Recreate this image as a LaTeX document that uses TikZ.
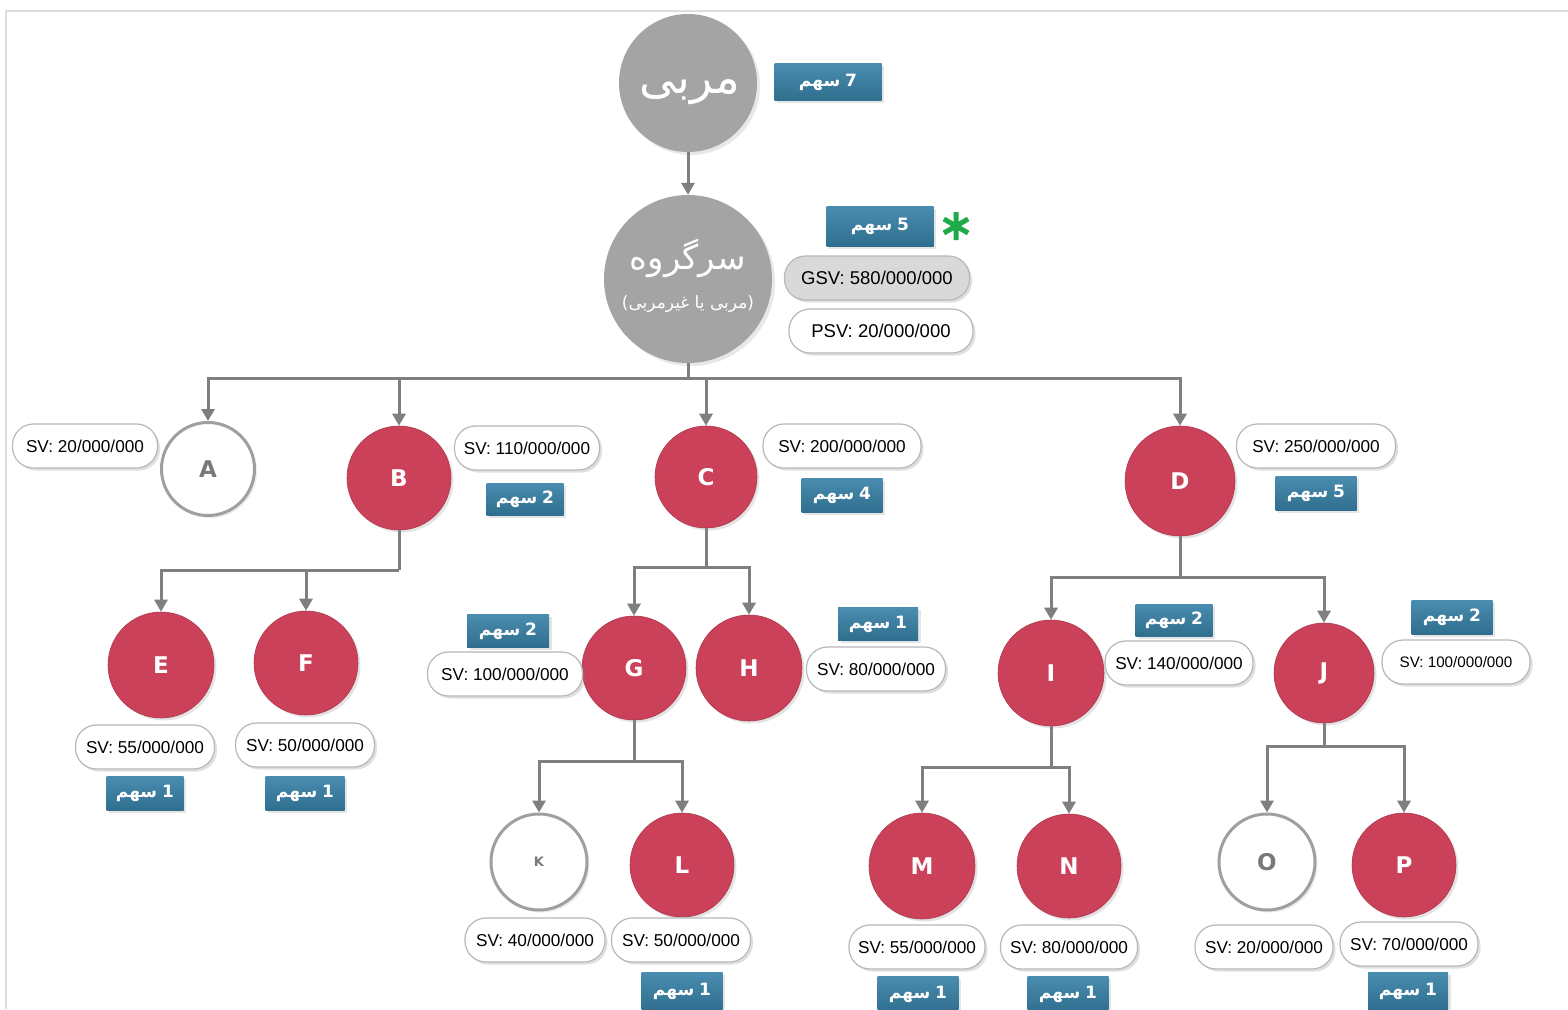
\documentclass[tikz,border=0pt]{standalone}
\usepackage{fontspec}
\setmainfont{Liberation Sans}
\newfontfamily\letterfont{DejaVu Sans}
\newfontfamily\arabicfont[Script=Arabic]{DejaVu Sans}
\TeXXeTstate=1
\usetikzlibrary{arrows.meta,shadows}

\definecolor{nodered}{HTML}{CB4159}
\definecolor{nodegray}{HTML}{A4A4A4}
\definecolor{linegray}{HTML}{7F7F7F}
\definecolor{boxtop}{HTML}{4A8DB0}
\definecolor{boxbot}{HTML}{2F6E8E}
\definecolor{pillborder}{HTML}{B8B8B8}
\definecolor{gsvfill}{HTML}{D9D9D9}
\definecolor{stargreen}{HTML}{1FAA4A}
\definecolor{framegray}{HTML}{DDDDDD}

% share label: Persian word on the left, number on the right
\newcommand\sahmlabel[1]{{\arabicfont\bfseries\beginR سهم\endR}\hspace{5pt}{\letterfont\bfseries #1}}

\tikzset{
  x=1pt, y=-1pt,
  lettertext/.style={font=\letterfont\bfseries\fontsize{23}{23}\selectfont},
  redc/.style={circle, inner sep=0pt, fill=nodered, draw=nodered!85!black,
    line width=0.6pt, text=white, lettertext,
    drop shadow={shadow xshift=2.5pt, shadow yshift=-2.5pt, opacity=0.22}},
  whitec/.style={circle, inner sep=0pt, fill=white, draw=gray!75,
    line width=3pt, text=gray!95!black, lettertext,
    drop shadow={shadow xshift=2.5pt, shadow yshift=-2.5pt, opacity=0.15}},
  grayc/.style={circle, inner sep=0pt, fill=nodegray, draw=none, text=white,
    drop shadow={shadow xshift=3pt, shadow yshift=-3pt, opacity=0.18}},
  pill/.style={rectangle, rounded corners=21pt, minimum height=44pt,
    minimum width=#1, inner sep=0pt, fill=white, draw=pillborder,
    line width=1.2pt, font=\fontsize{17.2}{18}\selectfont,
    drop shadow={shadow xshift=2.5pt, shadow yshift=-2.5pt, opacity=0.25}},
  sharebox/.style={rectangle, minimum width=#1, minimum height=34pt,
    inner sep=0pt, top color=boxtop, bottom color=boxbot, draw=none,
    text=white, font=\fontsize{17}{18}\selectfont,
    drop shadow={shadow xshift=2.5pt, shadow yshift=-2.5pt, opacity=0.2}},
  conn/.style={draw=linegray, line width=3pt},
  arr/.style={conn, -{Triangle[length=12pt,width=13pt]}},
}

\begin{document}
\begin{tikzpicture}
\useasboundingbox (0,0) rectangle (1568,1009);
\fill[white] (0,0) rectangle (1568,1009);
\draw[framegray, line width=2pt] (6,1009) -- (6,11) -- (1568,11);

% ---- top: coach and group leader
\node[grayc, minimum size=138pt] (morabbi) at (688,83) {};
\node[text=white, font=\arabicfont\fontsize{46}{46}\selectfont] (mtitle) at (690,92) {\beginR مربی\endR};
\node[sharebox=107pt, minimum height=37pt] (s7) at (828,82) {\sahmlabel{7}};

\node[grayc, minimum size=168pt] (sargrooh) at (688,279) {};
\node[text=white, font=\arabicfont\fontsize{34}{34}\selectfont] (sgtitle) at (688,258) {\beginR سرگروه\endR};
\node[text=white, font=\arabicfont\fontsize{17}{17}\selectfont] (sgsub) at (688,304)
  {{\letterfont(}\beginR مربی یا غیرمربی\endR{\letterfont)}};

\node[sharebox=107pt, minimum height=40pt] (s5top) at (880,226) {\sahmlabel{5}};
\draw[stargreen, line width=5pt] (956,212) -- (956,240)
  (943.9,219) -- (968.1,233) (943.9,233) -- (968.1,219);
\node[pill=185pt, fill=gsvfill, font=\fontsize{18.5}{19}\selectfont] (gsv) at (877,278) {GSV: 580/000/000};
\node[pill=184pt, font=\fontsize{18.5}{19}\selectfont] (psv) at (881,331) {PSV: 20/000/000};

\draw[arr] (morabbi) -- (sargrooh);

% ---- first level
\node[whitec, minimum size=93pt] (A) at (208,469) {A};
\node[redc, minimum size=104pt] (B) at (399,478) {B};
\node[redc, minimum size=102pt] (C) at (706,477) {C};
\node[redc, minimum size=110pt] (D) at (1180,481) {D};

\node[pill=145pt] (svA) at (85,446) {SV: 20/000/000};
\node[pill=145pt] (svB) at (527,448) {SV: 110/000/000};
\node[sharebox=77pt, minimum height=32pt] (shB) at (525,499) {\sahmlabel{2}};
\node[pill=158pt] (svC) at (842,446) {SV: 200/000/000};
\node[sharebox=81pt] (shC) at (842,495) {\sahmlabel{4}};
\node[pill=159pt] (svD) at (1316,446) {SV: 250/000/000};
\node[sharebox=81pt] (shD) at (1316,493) {\sahmlabel{5}};

\coordinate (busTop) at (688,378);
\draw[conn] (sargrooh) -- (busTop);
\draw[arr] (busTop) -| (A);
\draw[arr] (busTop) -| (B);
\draw[arr] (busTop) -| (C);
\draw[arr] (busTop) -| (D);

% ---- children of B
\node[redc, minimum size=106pt] (E) at (161,665) {E};
\node[redc, minimum size=104pt] (F) at (306,663) {F};
\node[pill=139pt] (svE) at (145,747) {SV: 55/000/000};
\node[sharebox=77pt] (shE) at (145,793) {\sahmlabel{1}};
\node[pill=139pt] (svF) at (305,745) {SV: 50/000/000};
\node[sharebox=79pt] (shF) at (305,793) {\sahmlabel{1}};

\coordinate (busB) at (399,570);
\draw[conn] (B) -- (busB);
\draw[arr] (busB) -| (E);
\draw[arr] (busB) -| (F);

% ---- children of C
\node[redc, minimum size=104pt] (G) at (634,668) {G};
\node[redc, minimum size=106pt] (H) at (749,668) {H};
\node[sharebox=82pt, minimum height=33pt] (shG) at (508,631) {\sahmlabel{2}};
\node[pill=155pt] (svG) at (505,674) {SV: 100/000/000};
\node[sharebox=80pt, minimum height=33pt] (shH) at (878,624) {\sahmlabel{1}};
\node[pill=139pt] (svH) at (876,669) {SV: 80/000/000};

\coordinate (busC) at (706,567);
\draw[conn] (C) -- (busC);
\draw[arr] (busC) -| (G);
\draw[arr] (busC) -| (H);

% ---- children of G
\node[whitec, minimum size=96pt, font=\letterfont\bfseries\fontsize{13}{13}\selectfont] (K) at (539,862) {K};
\node[redc, minimum size=104pt] (L) at (682,865) {L};
\node[pill=140pt] (svK) at (535,940) {SV: 40/000/000};
\node[pill=139pt] (svL) at (681,940) {SV: 50/000/000};
\node[sharebox=81pt, minimum height=38pt] (shL) at (682,991) {\sahmlabel{1}};

\coordinate (busG) at (634,761);
\draw[conn] (G) -- (busG);
\draw[arr] (busG) -| (K);
\draw[arr] (busG) -| (L);

% ---- children of D
\node[redc, minimum size=106pt] (I) at (1051,673) {I};
\node[redc, minimum size=100pt] (J) at (1324,673) {J};
\node[sharebox=77pt, minimum height=32pt] (shI) at (1174,620) {\sahmlabel{2}};
\node[pill=148pt] (svI) at (1179,663) {SV: 140/000/000};
\node[sharebox=81pt] (shJ) at (1452,617) {\sahmlabel{2}};
\node[pill=148pt, font=\fontsize{15.2}{16}\selectfont] (svJ) at (1456,662) {SV: 100/000/000};

\coordinate (busD) at (1180,577);
\draw[conn] (D) -- (busD);
\draw[arr] (busD) -| (I);
\draw[arr] (busD) -| (J);

% ---- children of I
\node[redc, minimum size=106pt] (M) at (922,866) {M};
\node[redc, minimum size=104pt] (N) at (1069,866) {N};
\node[pill=136pt] (svM) at (917,947) {SV: 55/000/000};
\node[pill=137pt] (svN) at (1069,947) {SV: 80/000/000};
\node[sharebox=81pt, minimum height=36pt] (shM) at (918,994) {\sahmlabel{1}};
\node[sharebox=81pt, minimum height=36pt] (shN) at (1068,994) {\sahmlabel{1}};

\coordinate (busI) at (1051,767);
\draw[conn] (I) -- (busI);
\draw[arr] (busI) -| (M);
\draw[arr] (busI) -| (N);

% ---- children of J
\node[whitec, minimum size=96pt] (O) at (1267,862) {O};
\node[redc, minimum size=104pt] (P) at (1404,865) {P};
\node[pill=138pt] (svO) at (1264,947) {SV: 20/000/000};
\node[pill=138pt] (svP) at (1409,944) {SV: 70/000/000};
\node[sharebox=80pt, minimum height=38pt] (shP) at (1408,991) {\sahmlabel{1}};

\coordinate (busJ) at (1324,746);
\draw[conn] (J) -- (busJ);
\draw[arr] (busJ) -| (O);
\draw[arr] (busJ) -| (P);
\end{tikzpicture}
\end{document}
